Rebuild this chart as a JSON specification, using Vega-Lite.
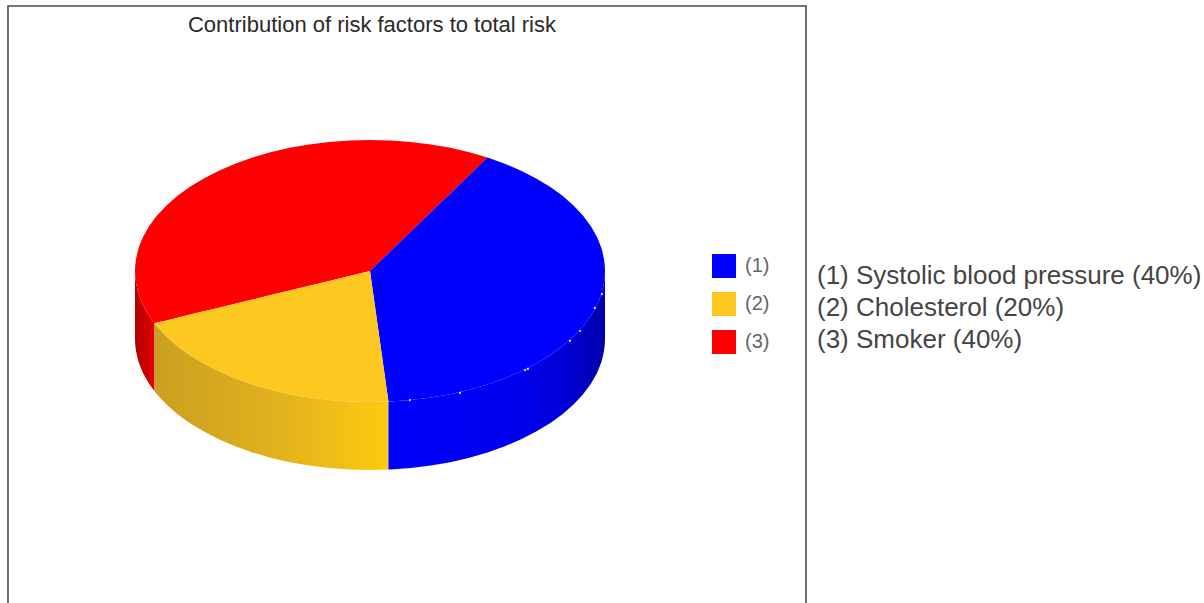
{
  "$schema": "https://vega.github.io/schema/vega-lite/v6.json",
  "width": 798,
  "height": 598,
  "autosize": "none",
  "padding": {"left": 8, "top": 6, "right": 398, "bottom": 0},
  "background": "white",
  "view": {"stroke": "#4a4a4a", "strokeWidth": 1.6, "fill": "white"},
  "title": {
    "text": "Contribution of risk factors to total risk",
    "anchor": "middle",
    "dx": -35,
    "offset": -31,
    "font": "Liberation Sans",
    "fontSize": 22,
    "fontWeight": "normal",
    "color": "#2a2a2a"
  },
  "datasets": {
    "faces": [
      {"face": "top", "slice": "(3)", "x": -1, "y": 0, "y2": 0},
      {"face": "top", "slice": "(3)", "x": -0.999, "y": 0.044, "y2": -0.044},
      {"face": "top", "slice": "(3)", "x": -0.996, "y": 0.087, "y2": -0.087},
      {"face": "top", "slice": "(3)", "x": -0.991, "y": 0.131, "y2": -0.131},
      {"face": "top", "slice": "(3)", "x": -0.985, "y": 0.174, "y2": -0.174},
      {"face": "top", "slice": "(3)", "x": -0.976, "y": 0.216, "y2": -0.216},
      {"face": "top", "slice": "(3)", "x": -0.966, "y": 0.259, "y2": -0.259},
      {"face": "top", "slice": "(3)", "x": -0.94, "y": 0.342, "y2": -0.342},
      {"face": "top", "slice": "(3)", "x": -0.917, "y": 0.399, "y2": -0.399},
      {"face": "top", "slice": "(3)", "x": -0.906, "y": 0.423, "y2": -0.394},
      {"face": "top", "slice": "(3)", "x": -0.866, "y": 0.5, "y2": -0.377},
      {"face": "top", "slice": "(3)", "x": -0.819, "y": 0.574, "y2": -0.356},
      {"face": "top", "slice": "(3)", "x": -0.766, "y": 0.643, "y2": -0.333},
      {"face": "top", "slice": "(3)", "x": -0.707, "y": 0.707, "y2": -0.308},
      {"face": "top", "slice": "(3)", "x": -0.643, "y": 0.766, "y2": -0.28},
      {"face": "top", "slice": "(3)", "x": -0.574, "y": 0.819, "y2": -0.25},
      {"face": "top", "slice": "(3)", "x": -0.5, "y": 0.866, "y2": -0.2175},
      {"face": "top", "slice": "(3)", "x": -0.423, "y": 0.906, "y2": -0.184},
      {"face": "top", "slice": "(3)", "x": -0.342, "y": 0.94, "y2": -0.149},
      {"face": "top", "slice": "(3)", "x": -0.259, "y": 0.966, "y2": -0.113},
      {"face": "top", "slice": "(3)", "x": -0.174, "y": 0.985, "y2": -0.076},
      {"face": "top", "slice": "(3)", "x": -0.087, "y": 0.996, "y2": -0.038},
      {"face": "top", "slice": "(3)", "x": 0, "y": 1, "y2": 0},
      {"face": "top", "slice": "(3)", "x": 0.087, "y": 0.996, "y2": 0.151},
      {"face": "top", "slice": "(3)", "x": 0.174, "y": 0.985, "y2": 0.301},
      {"face": "top", "slice": "(3)", "x": 0.259, "y": 0.966, "y2": 0.449},
      {"face": "top", "slice": "(3)", "x": 0.342, "y": 0.94, "y2": 0.592},
      {"face": "top", "slice": "(3)", "x": 0.423, "y": 0.906, "y2": 0.733},
      {"face": "top", "slice": "(3)", "x": 0.5, "y": 0.866, "y2": 0.866},

      {"face": "top", "slice": "(1)", "x": 0, "y": 0, "y2": 0},
      {"face": "top", "slice": "(1)", "x": 0.0785, "y": 0.136, "y2": -0.997},
      {"face": "top", "slice": "(1)", "x": 0.087, "y": 0.151, "y2": -0.996},
      {"face": "top", "slice": "(1)", "x": 0.174, "y": 0.301, "y2": -0.985},
      {"face": "top", "slice": "(1)", "x": 0.259, "y": 0.449, "y2": -0.966},
      {"face": "top", "slice": "(1)", "x": 0.342, "y": 0.592, "y2": -0.94},
      {"face": "top", "slice": "(1)", "x": 0.423, "y": 0.733, "y2": -0.906},
      {"face": "top", "slice": "(1)", "x": 0.5, "y": 0.866, "y2": -0.866},
      {"face": "top", "slice": "(1)", "x": 0.574, "y": 0.819, "y2": -0.819},
      {"face": "top", "slice": "(1)", "x": 0.643, "y": 0.766, "y2": -0.766},
      {"face": "top", "slice": "(1)", "x": 0.707, "y": 0.707, "y2": -0.707},
      {"face": "top", "slice": "(1)", "x": 0.766, "y": 0.643, "y2": -0.643},
      {"face": "top", "slice": "(1)", "x": 0.819, "y": 0.574, "y2": -0.574},
      {"face": "top", "slice": "(1)", "x": 0.866, "y": 0.5, "y2": -0.5},
      {"face": "top", "slice": "(1)", "x": 0.906, "y": 0.423, "y2": -0.423},
      {"face": "top", "slice": "(1)", "x": 0.94, "y": 0.342, "y2": -0.342},
      {"face": "top", "slice": "(1)", "x": 0.966, "y": 0.259, "y2": -0.259},
      {"face": "top", "slice": "(1)", "x": 0.976, "y": 0.216, "y2": -0.216},
      {"face": "top", "slice": "(1)", "x": 0.985, "y": 0.174, "y2": -0.174},
      {"face": "top", "slice": "(1)", "x": 0.991, "y": 0.131, "y2": -0.131},
      {"face": "top", "slice": "(1)", "x": 0.996, "y": 0.087, "y2": -0.087},
      {"face": "top", "slice": "(1)", "x": 0.999, "y": 0.044, "y2": -0.044},
      {"face": "top", "slice": "(1)", "x": 1, "y": 0, "y2": 0},

      {"face": "top", "slice": "(2)", "x": -0.917, "y": -0.399, "y2": -0.399},
      {"face": "top", "slice": "(2)", "x": -0.906, "y": -0.394, "y2": -0.423},
      {"face": "top", "slice": "(2)", "x": -0.866, "y": -0.377, "y2": -0.5},
      {"face": "top", "slice": "(2)", "x": -0.819, "y": -0.356, "y2": -0.574},
      {"face": "top", "slice": "(2)", "x": -0.766, "y": -0.333, "y2": -0.643},
      {"face": "top", "slice": "(2)", "x": -0.707, "y": -0.308, "y2": -0.707},
      {"face": "top", "slice": "(2)", "x": -0.643, "y": -0.28, "y2": -0.766},
      {"face": "top", "slice": "(2)", "x": -0.574, "y": -0.25, "y2": -0.819},
      {"face": "top", "slice": "(2)", "x": -0.5, "y": -0.2175, "y2": -0.866},
      {"face": "top", "slice": "(2)", "x": -0.423, "y": -0.184, "y2": -0.906},
      {"face": "top", "slice": "(2)", "x": -0.342, "y": -0.149, "y2": -0.94},
      {"face": "top", "slice": "(2)", "x": -0.259, "y": -0.113, "y2": -0.966},
      {"face": "top", "slice": "(2)", "x": -0.174, "y": -0.076, "y2": -0.985},
      {"face": "top", "slice": "(2)", "x": -0.087, "y": -0.038, "y2": -0.996},
      {"face": "top", "slice": "(2)", "x": 0, "y": 0, "y2": -1},
      {"face": "top", "slice": "(2)", "x": 0.0785, "y": -0.997, "y2": -0.997},

      {"face": "side", "slice": "(1)", "x": 0.0785, "y": -0.997, "y2": -1.516},
      {"face": "side", "slice": "(1)", "x": 0.087, "y": -0.996, "y2": -1.515},
      {"face": "side", "slice": "(1)", "x": 0.174, "y": -0.985, "y2": -1.504},
      {"face": "side", "slice": "(1)", "x": 0.259, "y": -0.966, "y2": -1.485},
      {"face": "side", "slice": "(1)", "x": 0.342, "y": -0.94, "y2": -1.459},
      {"face": "side", "slice": "(1)", "x": 0.423, "y": -0.906, "y2": -1.425},
      {"face": "side", "slice": "(1)", "x": 0.5, "y": -0.866, "y2": -1.385},
      {"face": "side", "slice": "(1)", "x": 0.574, "y": -0.819, "y2": -1.338},
      {"face": "side", "slice": "(1)", "x": 0.643, "y": -0.766, "y2": -1.285},
      {"face": "side", "slice": "(1)", "x": 0.707, "y": -0.707, "y2": -1.226},
      {"face": "side", "slice": "(1)", "x": 0.766, "y": -0.643, "y2": -1.162},
      {"face": "side", "slice": "(1)", "x": 0.819, "y": -0.574, "y2": -1.093},
      {"face": "side", "slice": "(1)", "x": 0.866, "y": -0.5, "y2": -1.019},
      {"face": "side", "slice": "(1)", "x": 0.906, "y": -0.423, "y2": -0.942},
      {"face": "side", "slice": "(1)", "x": 0.94, "y": -0.342, "y2": -0.861},
      {"face": "side", "slice": "(1)", "x": 0.966, "y": -0.259, "y2": -0.778},
      {"face": "side", "slice": "(1)", "x": 0.976, "y": -0.216, "y2": -0.735},
      {"face": "side", "slice": "(1)", "x": 0.985, "y": -0.174, "y2": -0.693},
      {"face": "side", "slice": "(1)", "x": 0.991, "y": -0.131, "y2": -0.65},
      {"face": "side", "slice": "(1)", "x": 0.996, "y": -0.087, "y2": -0.606},
      {"face": "side", "slice": "(1)", "x": 0.999, "y": -0.044, "y2": -0.563},
      {"face": "side", "slice": "(1)", "x": 1, "y": 0, "y2": -0.519},

      {"face": "side", "slice": "(2)", "x": -0.917, "y": -0.399, "y2": -0.918},
      {"face": "side", "slice": "(2)", "x": -0.906, "y": -0.423, "y2": -0.942},
      {"face": "side", "slice": "(2)", "x": -0.866, "y": -0.5, "y2": -1.019},
      {"face": "side", "slice": "(2)", "x": -0.819, "y": -0.574, "y2": -1.093},
      {"face": "side", "slice": "(2)", "x": -0.766, "y": -0.643, "y2": -1.162},
      {"face": "side", "slice": "(2)", "x": -0.707, "y": -0.707, "y2": -1.226},
      {"face": "side", "slice": "(2)", "x": -0.643, "y": -0.766, "y2": -1.285},
      {"face": "side", "slice": "(2)", "x": -0.574, "y": -0.819, "y2": -1.338},
      {"face": "side", "slice": "(2)", "x": -0.5, "y": -0.866, "y2": -1.385},
      {"face": "side", "slice": "(2)", "x": -0.423, "y": -0.906, "y2": -1.425},
      {"face": "side", "slice": "(2)", "x": -0.342, "y": -0.94, "y2": -1.459},
      {"face": "side", "slice": "(2)", "x": -0.259, "y": -0.966, "y2": -1.485},
      {"face": "side", "slice": "(2)", "x": -0.174, "y": -0.985, "y2": -1.504},
      {"face": "side", "slice": "(2)", "x": -0.087, "y": -0.996, "y2": -1.515},
      {"face": "side", "slice": "(2)", "x": 0, "y": -1, "y2": -1.519},
      {"face": "side", "slice": "(2)", "x": 0.0785, "y": -0.997, "y2": -1.516},

      {"face": "side", "slice": "(3)", "x": -1, "y": 0, "y2": -0.519},
      {"face": "side", "slice": "(3)", "x": -0.999, "y": -0.044, "y2": -0.563},
      {"face": "side", "slice": "(3)", "x": -0.996, "y": -0.087, "y2": -0.606},
      {"face": "side", "slice": "(3)", "x": -0.991, "y": -0.131, "y2": -0.65},
      {"face": "side", "slice": "(3)", "x": -0.985, "y": -0.174, "y2": -0.693},
      {"face": "side", "slice": "(3)", "x": -0.976, "y": -0.216, "y2": -0.735},
      {"face": "side", "slice": "(3)", "x": -0.966, "y": -0.259, "y2": -0.778},
      {"face": "side", "slice": "(3)", "x": -0.94, "y": -0.342, "y2": -0.861},
      {"face": "side", "slice": "(3)", "x": -0.917, "y": -0.399, "y2": -0.918}
    ],
    "specks": [
      {"x": 0.17, "y": -0.985},
      {"x": 0.383, "y": -0.931},
      {"x": 0.66, "y": -0.756},
      {"x": 0.672, "y": -0.748},
      {"x": 0.851, "y": -0.534},
      {"x": 0.894, "y": -0.458},
      {"x": 0.957, "y": -0.282},
      {"x": 0.987, "y": -0.176}
    ],
    "factors": [
      {"label": "(1) Systolic blood pressure (40%)", "x": 1.902, "y": -0.038},
      {"label": "(2) Cholesterol (20%)", "x": 1.902, "y": -0.282},
      {"label": "(3) Smoker (40%)", "x": 1.902, "y": -0.527}
    ]
  },
  "data": {"name": "faces"},
  "encoding": {
    "x": {"field": "x", "type": "quantitative", "axis": null, "scale": {"domain": [-1.5404, 1.8553], "nice": false, "zero": false}},
    "y": {"field": "y", "type": "quantitative", "axis": null, "scale": {"domain": [-2.542, 2.0229], "nice": false, "zero": false}}
  },
  "layer": [
    {
      "transform": [{"filter": "datum.face === 'side' && datum.slice === '(3)'"}],
      "mark": {"type": "area", "color": {"gradient": "linear", "x1": 0, "x2": 1, "y1": 0, "y2": 0, "stops": [{"offset": 0, "color": "#b00000"}, {"offset": 1, "color": "#e80000"}]}},
      "encoding": {"y2": {"field": "y2"}}
    },
    {
      "transform": [{"filter": "datum.face === 'side' && datum.slice === '(2)'"}],
      "mark": {"type": "area", "color": {"gradient": "linear", "x1": 0, "x2": 1, "y1": 0, "y2": 0, "stops": [{"offset": 0, "color": "#c9a020"}, {"offset": 0.5, "color": "#e0b01e"}, {"offset": 1, "color": "#fdcb10"}]}},
      "encoding": {"y2": {"field": "y2"}}
    },
    {
      "transform": [{"filter": "datum.face === 'side' && datum.slice === '(1)'"}],
      "mark": {"type": "area", "color": {"gradient": "linear", "x1": 0, "x2": 1, "y1": 0, "y2": 0, "stops": [{"offset": 0, "color": "#0000fa"}, {"offset": 0.6, "color": "#0000ee"}, {"offset": 0.85, "color": "#0000d0"}, {"offset": 1, "color": "#0000a8"}]}},
      "encoding": {"y2": {"field": "y2"}}
    },
    {
      "transform": [{"filter": "datum.face === 'top'"}],
      "mark": {"type": "area"},
      "encoding": {
        "y2": {"field": "y2"},
        "color": {
          "field": "slice",
          "type": "nominal",
          "scale": {"domain": ["(1)", "(2)", "(3)"], "range": ["#0000ff", "#fdc81f", "#ff0000"]},
          "legend": {
            "orient": "none",
            "legendX": 704,
            "legendY": 248,
            "title": null,
            "padding": 0,
            "symbolType": "square",
            "symbolSize": 576,
            "symbolStrokeWidth": 0,
            "symbolOpacity": 1,
            "labelFont": "Liberation Sans",
            "labelFontSize": 20,
            "labelColor": "#666666",
            "labelOffset": 9,
            "rowPadding": 14
          }
        }
      }
    },
    {
      "data": {"name": "specks"},
      "mark": {"type": "point", "filled": true, "size": 5, "color": "#e8e8ff", "opacity": 1}
    },
    {
      "data": {"name": "factors"},
      "mark": {"type": "text", "align": "left", "baseline": "middle", "font": "Liberation Sans", "fontSize": 26, "color": "#444444"},
      "encoding": {"text": {"field": "label"}}
    }
  ]
}
